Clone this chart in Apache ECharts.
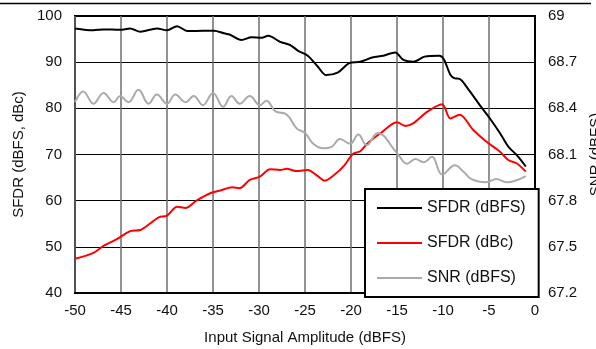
<!DOCTYPE html>
<html>
<head>
<meta charset="utf-8">
<script src="https://cdn.jsdelivr.net/npm/echarts@6/dist/echarts.min.js"></script>
<style>
html,body{margin:0;padding:0;background:#fff;}
#c{width:596px;height:349px;}
</style>
</head>
<body>
<div id="c"></div>
<script>
const xTicks = [-50, -45, -40, -35, -30, -25, -20, -15, -10, -5, 0];
const leftTicks = [40, 50, 60, 70, 80, 90, 100];
const rightTicks = [67.2, 67.5, 67.8, 68.1, 68.4, 68.7, 69];

const sfdrDbfsX = [-50, -48, -46.9, -45.1, -44, -42.9, -41.1, -40, -38.9, -37.8, -36, -34.9, -33.8, -33.2, -31.9, -30.8, -29.7, -29.0, -27.7, -26.6, -25.7, -24.7, -23.6, -22.7, -21.4, -20.2, -19, -17.7, -16.5, -15.2, -14.3, -13.2, -12.0, -10.4, -9.9, -9.2, -8.7, -8.2, -7.2, -6.0, -4.9, -3.8, -2.9, -2.0, -1.0];
const sfdrDbfsY = [97.3, 96.9, 97.1, 97.0, 97.3, 96.6, 97.3, 96.9, 97.8, 96.75, 96.8, 96.8, 96.25, 96.0, 94.8, 95.4, 95.3, 95.7, 94.4, 93.7, 92.4, 91.4, 89.0, 87.2, 87.8, 89.8, 90.1, 91.0, 91.4, 92.1, 90.5, 90.1, 91.2, 91.4, 90.6, 87.3, 86.5, 86.4, 84.0, 80.7, 77.8, 74.6, 71.7, 69.9, 67.4];

const sfdrDbcX = [-50, -48, -46.9, -45.5, -44, -42.9, -41.8, -40.9, -40, -38.9, -38, -36.8, -35.3, -34.2, -32.9, -32.1, -31, -29.9, -28.8, -27.7, -27, -25.9, -24.7, -23.6, -22.9, -21.8, -20.7, -19.8, -19, -18.1, -16.8, -15, -14.1, -13.2, -11.7, -10.1, -9.2, -8.2, -6.7, -5.3, -3.8, -2.9, -2.0, -1.0];
const sfdrDbcY = [47.4, 48.7, 50.2, 51.6, 53.4, 53.65, 55.1, 56.4, 56.75, 58.7, 58.4, 60.0, 61.6, 62.2, 62.9, 62.7, 64.5, 65.2, 66.8, 66.65, 66.9, 66.4, 66.65, 65.3, 64.3, 65.6, 67.7, 70.1, 70.7, 72.6, 74.6, 77.0, 76.2, 76.8, 79.3, 80.9, 77.8, 78.6, 75.3, 72.8, 70.6, 68.8, 68.1, 66.3];

const snrX = [-50, -49.1, -48, -46.9, -45.8, -45.1, -44.2, -43.1, -42, -41.1, -40, -39.1, -38, -37.1, -36.1, -35, -33.9, -33.0, -32.1, -31.0, -29.9, -29.2, -28.2, -27.0, -25.9, -25.0, -24.1, -23.0, -22.1, -21.2, -20.1, -19.2, -18.3, -17.1, -15.0, -13.9, -13.0, -12.1, -11.2, -10.1, -8.7, -7.8, -6.9, -5.3, -4.2, -3.1, -1.0];
const snrY = [68.44, 68.51, 68.43, 68.50, 68.44, 68.48, 68.44, 68.52, 68.43, 68.49, 68.43, 68.49, 68.44, 68.48, 68.42, 68.50, 68.41, 68.48, 68.43, 68.48, 68.42, 68.45, 68.38, 68.36, 68.27, 68.24, 68.17, 68.14, 68.15, 68.20, 68.17, 68.23, 68.16, 68.24, 68.11, 68.04, 68.07, 68.05, 68.085, 67.97, 68.03, 67.99, 67.94, 67.92, 67.94, 67.92, 67.96];

const zip = (xs, ys) => xs.map((x, i) => [x, ys[i]]);
const FONT = '"Liberation Sans", Arial, sans-serif';
const lbl = {fontFamily: FONT, fontSize: 15, color: '#111'};
const lineIcon = 'path://M0,0H45V2H0Z';

const chart = echarts.init(document.getElementById('c'), null, {renderer: 'canvas'});
chart.setOption({
  animation: false,
  backgroundColor: '#fff',
  textStyle: {fontFamily: FONT},
  grid: {left: 75, right: 61, top: 16, bottom: 56, show: true, borderColor: '#000', borderWidth: 2,
         backgroundColor: 'transparent', containLabel: false, outerBoundsMode: 'none'},
  graphic: [{type: 'line', shape: {x1: 0, y1: 3.5, x2: 591, y2: 3.5}, style: {stroke: '#000', lineWidth: 1.5}, z: 100}],
  xAxis: {
    type: 'value', min: xTicks[0], max: xTicks[xTicks.length - 1], interval: 5,
    name: 'Input Signal Amplitude (dBFS)', nameLocation: 'middle', nameGap: 37,
    nameTextStyle: {fontFamily: FONT, fontSize: 15, color: '#111'},
    axisLine: {show: true, lineStyle: {color: '#000', width: 2}},
    axisTick: {show: false},
    axisLabel: Object.assign({margin: 10}, lbl),
    splitLine: {show: true, lineStyle: {color: '#6e6e6e', width: 1.5}}
  },
  yAxis: [{
    type: 'value', min: leftTicks[0], max: leftTicks[leftTicks.length - 1], interval: 10,
    name: 'SFDR (dBFS, dBc)', nameLocation: 'middle', nameGap: 46, nameRotate: 90,
    nameTextStyle: {fontFamily: FONT, fontSize: 15, color: '#111'},
    axisLine: {show: true, lineStyle: {color: '#000', width: 2}},
    axisTick: {show: false},
    axisLabel: Object.assign({margin: 13}, lbl),
    splitLine: {show: true, lineStyle: {color: '#000', width: 1}}
  }, {
    type: 'value', min: rightTicks[0], max: rightTicks[rightTicks.length - 1], interval: 0.3,
    position: 'right',
    name: 'SNR (dBFS)', nameLocation: 'middle', nameGap: 53, nameRotate: 90,
    nameTextStyle: {fontFamily: FONT, fontSize: 15, color: '#111'},
    axisLine: {show: true, lineStyle: {color: '#000', width: 2}},
    axisTick: {show: false},
    axisLabel: Object.assign({margin: 13, formatter: v => String(Math.round(v * 10) / 10)}, lbl),
    splitLine: {show: false}
  }],
  legend: {
    orient: 'vertical', left: 365, top: 189,
    padding: [11, 13, 11, 12], itemGap: 19, itemWidth: 45, itemHeight: 15,
    backgroundColor: '#fff', borderColor: '#000', borderWidth: 2,
    textStyle: {fontFamily: FONT, fontSize: 16, color: '#111', lineHeight: 15},
    data: [{name: 'SFDR (dBFS)', icon: lineIcon}, {name: 'SFDR (dBc)', icon: lineIcon}, {name: 'SNR (dBFS)', icon: lineIcon}]
  },
  series: [{
    name: 'SFDR (dBFS)', type: 'line', yAxisIndex: 0, data: zip(sfdrDbfsX, sfdrDbfsY),
    symbol: 'none', smooth: 0.3, lineStyle: {color: '#000', width: 2}, itemStyle: {color: '#000'}
  }, {
    name: 'SFDR (dBc)', type: 'line', yAxisIndex: 0, data: zip(sfdrDbcX, sfdrDbcY),
    symbol: 'none', smooth: 0.3, lineStyle: {color: '#ff0000', width: 2}, itemStyle: {color: '#ff0000'}
  }, {
    name: 'SNR (dBFS)', type: 'line', yAxisIndex: 1, data: zip(snrX, snrY),
    symbol: 'none', smooth: 0.4, lineStyle: {color: '#aaaaaa', width: 2}, itemStyle: {color: '#aaaaaa'}
  }]
});
</script>
</body>
</html>
